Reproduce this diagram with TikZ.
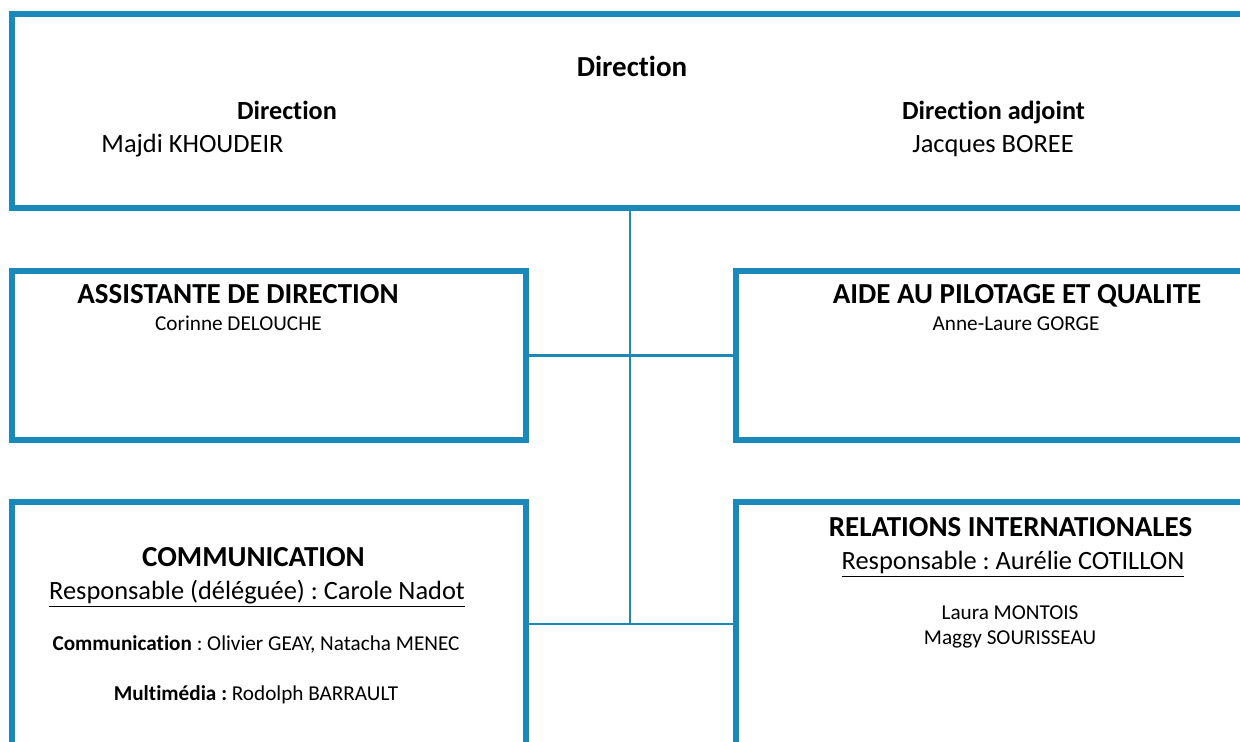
\documentclass[tikz,border=0pt]{standalone}
\usepackage{fontspec}
\setmainfont{Carlito}[RawFeature={-liga}]
\usepackage{xcolor}
\usetikzlibrary{fit}
\definecolor{bleu}{HTML}{1A88B8}
\frenchspacing

\begin{document}
\begin{tikzpicture}[x=0.5pt, y=-0.5pt,
	box/.style = {draw=bleu, line width=3pt, inner sep=0pt, outer sep=0pt},
	link/.style = {draw=bleu, line width=1.3pt},
	big/.style = {font=\fontsize{14.5}{17}\selectfont\bfseries, anchor=base},
	midb/.style = {font=\fontsize{13.1}{16}\selectfont\bfseries, anchor=base},
	mid/.style = {font=\fontsize{13.2}{16}\selectfont, anchor=base},
	small/.style = {font=\fontsize{10.6}{13}\selectfont, anchor=base}]
	\useasboundingbox (0,0) rectangle (1240,742);
	\clip (0,0) rectangle (1240,742);

		\node [box, fit={(12,14) (1270,208)}] (direction) {};
		\node [box, fit={(12,271) (526,439.5)}] (assistante) {};
		\node [box, fit={(736,271) (1270,439.5)}] (pilotage) {};
		\node [box, fit={(12,502) (526,790)}] (communication) {};
		\node [box, fit={(736,502) (1270,790)}] (relations) {};

		\coordinate (bas) at (630,624);
		\draw [link] (direction.south -| bas) -- (bas);
		\draw [link] (assistante.east) -- (pilotage.west);
		\draw [link] (communication.east |- bas) -- (relations.west |- bas);

	% direction
		\node [big] (titre) at (632,77) {Direction};
		\node [midb] (dirtitre) at (287,120) {Direction};
		\node [mid] (dirnom) at (192.5,153) {Majdi KHOUDEIR};
		\node [midb] (adjtitre) at (993.5,120) {Direction adjoint};
		\node [mid] (adjnom) at (993,153) {Jacques BOREE};
	% assistante et pilotage
		\node [big] (assttitre) at (238,304) {ASSISTANTE DE DIRECTION};
		\node [small] (asstnom) at (238.5,331) {Corinne DELOUCHE};
		\node [big] (pilotitre) at (1017,304) {AIDE AU PILOTAGE ET QUALITE};
		\node [small] (pilonom) at (1016,331) {Anne-Laure GORGE};
	% communication
		\node [big] (commtitre) at (253.5,566) {COMMUNICATION};
		\node [mid] (commresp) at (257,599) {\underline{Responsable (déléguée) : Carole Nadot}};
		\node [small] (commequipe) at (256,650.5) {\textbf{Communication} : Olivier GEAY, Natacha MENEC};
		\node [small] (commmulti) at (256,700) {\textbf{Multimédia :} Rodolph BARRAULT};
	% relations internationales
		\node [big] (reltitre) at (1010.5,536) {RELATIONS INTERNATIONALES};
		\node [mid] (relresp) at (1013,569) {\underline{Responsable : Aurélie COTILLON}};
		\node [small] (relnom1) at (1010,619) {Laura MONTOIS};
		\node [small] (relnom2) at (1010,644) {Maggy SOURISSEAU};

\end{tikzpicture}
\end{document}
